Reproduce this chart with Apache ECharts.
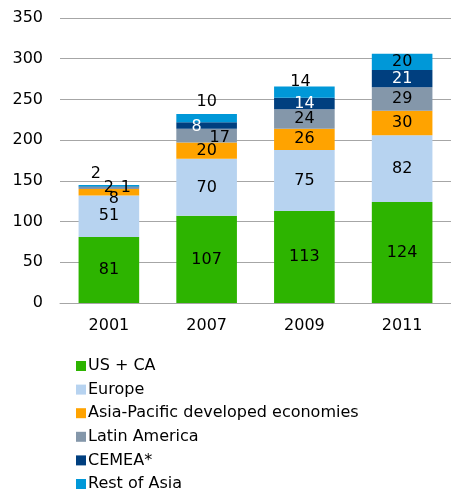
<!DOCTYPE html>
<html>
<head>
<meta charset="utf-8">
<script src="https://cdn.jsdelivr.net/npm/echarts@6/dist/echarts.min.js"></script>
<style>
  html, body { margin: 0; padding: 0; background: #fff; }
  #chart { width: 451px; height: 492px; }
</style>
</head>
<body>
<div id="chart"></div>
<script>
// 数据
const years = ['2001', '2007', '2009', '2011']
const usCa = [81, 107, 113, 124]
const europe = [51, 70, 75, 82]
const asiaPac = [8, 20, 26, 30]
const latAm = [2, 17, 24, 29]
const cemea = [1, 8, 14, 21]
const restAsia = [2, 10, 14, 20]
const yTicks = [0, 50, 100, 150, 200, 250, 300, 350]

const FONT = 'DejaVu Sans'

// 小段标签的偏移（避免重叠）
const labelOffsets = {
  'Asia-Pacific developed economies': { 0: [5, 7] },
  'Latin America': { 1: [13, 2] },
  'CEMEA*': { 0: [17, 1], 1: [-10, 1] },
  'Rest of Asia': { 0: [-13, -12], 1: [0, -16], 2: [-4, -10] },
}
// 段外/细段标签用黑色
const darkLabel = { 'CEMEA*': { 0: true } }

const defs = [
  { name: 'US + CA', data: usCa, color: '#2db400', text: '#000' },
  { name: 'Europe', data: europe, color: '#b7d3f0', text: '#000' },
  { name: 'Asia-Pacific developed economies', data: asiaPac, color: '#ffa300', text: '#000' },
  { name: 'Latin America', data: latAm, color: '#8497aa', text: '#000' },
  { name: 'CEMEA*', data: cemea, color: '#003f7f', text: '#fff' },
  { name: 'Rest of Asia', data: restAsia, color: '#0098d8', text: '#000' },
]

const series = defs.map(d => ({
  name: d.name,
  type: 'bar',
  stack: 'total',
  barWidth: '62%',
  itemStyle: { color: d.color },
  label: {
    show: true, position: 'inside', color: d.text,
    fontSize: 16, fontFamily: FONT,
  },
  data: d.data.map((v, i) => {
    const off = (labelOffsets[d.name] || {})[i]
    const dark = (darkLabel[d.name] || {})[i]
    if (!off && !dark) return v
    const label = {}
    if (off) label.offset = off
    if (dark) label.color = '#000'
    return { value: v, label }
  }),
}))

const chart = echarts.init(document.getElementById('chart'), null, { renderer: 'canvas' })
chart.setOption({
  animation: false,
  backgroundColor: '#fff',
  grid: { left: 60, width: 395, top: 18, height: 285 },
  legend: {
    orient: 'vertical', left: 76, top: 358, height: 134,
    itemWidth: 10, itemHeight: 10, itemGap: 7.6,
    icon: 'rect', padding: 0,
    textStyle: { color: '#000', fontSize: 16, fontFamily: FONT, padding: [0, 0, 0, -3] },
    data: defs.map(d => d.name),
  },
  xAxis: {
    type: 'category', data: years,
    axisLine: { lineStyle: { color: '#a6a6a6', width: 1 } },
    axisTick: { show: false },
    axisLabel: { color: '#000', fontSize: 16, fontFamily: FONT, margin: 15 },
  },
  yAxis: {
    type: 'value', min: yTicks[0], max: yTicks[yTicks.length - 1], interval: 50,
    axisLine: { show: false }, axisTick: { show: false },
    axisLabel: { color: '#000', fontSize: 16, fontFamily: FONT, margin: 17 },
    splitLine: { lineStyle: { color: '#a6a6a6', width: 1 } },
  },
  series,
})
</script>
</body>
</html>
